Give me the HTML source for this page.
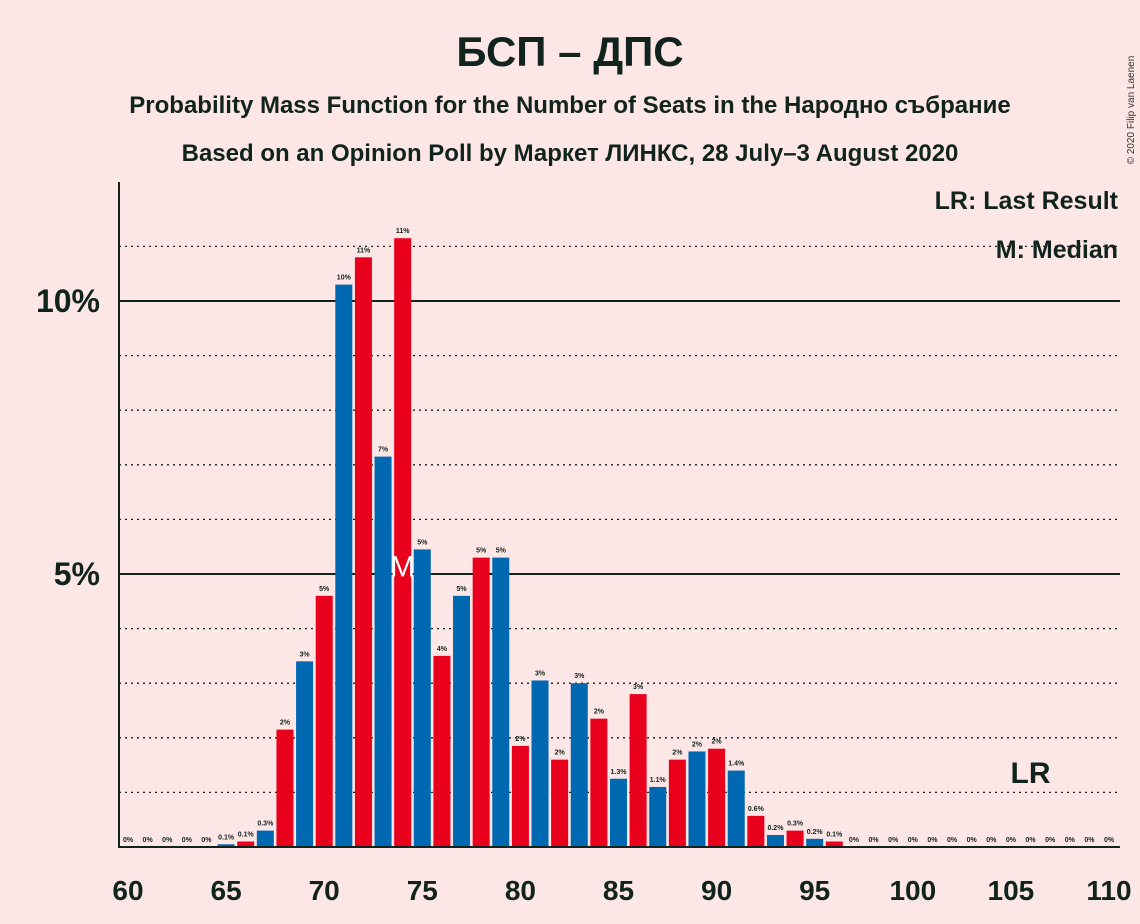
<!DOCTYPE html>
<html><head><meta charset="utf-8"><style>
body{margin:0;background:#fde6e6;}
svg{display:block;font-family:"Liberation Sans",sans-serif;}
</style></head><body>
<svg width="1140" height="924">
<rect width="1140" height="924" fill="#fde6e6"/>
<text x="570" y="66" text-anchor="middle" font-size="42" font-weight="bold" fill="#10231d">БСП – ДПС</text>
<text x="570" y="113" text-anchor="middle" font-size="24" font-weight="bold" fill="#10231d">Probability Mass Function for the Number of Seats in the Народно събрание</text>
<text x="570" y="161" text-anchor="middle" font-size="24" font-weight="bold" fill="#10231d">Based on an Opinion Poll by Маркет ЛИНКС, 28 July–3 August 2020</text>
<text x="1134" y="110" font-size="10" fill="#333" transform="rotate(-90 1134 110)" text-anchor="middle">© 2020 Filip van Laenen</text>
<g id="grid"></g>
<g id="bars"></g>
<g id="labels"></g>
<text x="1118" y="209" text-anchor="end" font-size="25" font-weight="bold" fill="#10231d">LR: Last Result</text>
<text x="1118" y="258" text-anchor="end" font-size="25" font-weight="bold" fill="#10231d">M: Median</text>
<g id="axes"></g>
</svg>
<script>
const seats=[];for(let s=60;s<=110;s++)seats.push(s);
const probs=[0,0,0,0,0,0.05,0.1,0.3,2.15,3.4,4.6,10.3,10.8,7.15,11.15,5.45,3.5,4.6,5.3,5.3,1.85,3.05,1.6,3.0,2.35,1.25,2.8,1.1,1.6,1.75,1.8,1.4,0.57,0.22,0.3,0.15,0.1,0,0,0,0,0,0,0,0,0,0,0,0,0,0];
const valueLabels=["0%","0%","0%","0%","0%","0.1%","0.1%","0.3%","2%","3%","5%","10%","11%","7%","11%","5%","4%","5%","5%","5%","2%","3%","2%","3%","2%","1.3%","3%","1.1%","2%","2%","2%","1.4%","0.6%","0.2%","0.3%","0.2%","0.1%","0%","0%","0%","0%","0%","0%","0%","0%","0%","0%","0%","0%","0%","0%"];
const xTicks=[60,65,70,75,80,85,90,95,100,105,110];
const yTicks=[5,10];
const medianSeat=74, lastResultSeat=106;
const NS="http://www.w3.org/2000/svg";
const x=s=>128+(s-60)*19.62;
const y=p=>847-p*54.6;
function mk(t,parent,attrs){const e=document.createElementNS(NS,t);for(const k in attrs)e.setAttribute(k,attrs[k]);document.getElementById(parent).appendChild(e);return e;}
for(let p=1;p<=11;p++){
 const solid=yTicks.includes(p);
 const l=mk('line','grid',{x1:119,x2:1120,y1:y(p),y2:y(p),stroke:'#10231d','stroke-width':solid?2:1.3,'stroke-dasharray':solid?'':'2,4'});
 
 
}
seats.forEach((s,i)=>{
 const p=probs[i];
 if(p>0){
  const r=mk('rect','bars',{x:x(s)-8.5,y:y(p),width:17,height:847-y(p),fill:s%2?'#0067b1':'#e8001c'});
  
  
 }
 const t=mk('text','labels',{x:x(s),y:y(p)-5,'text-anchor':'middle','font-size':7,'font-weight':'bold',fill:'#10231d'});
 t.textContent=valueLabels[i];
 
 
});
const m=mk('text','labels',{x:x(medianSeat),y:y(5.05)+5,'text-anchor':'middle','font-size':30,fill:'#fff'});
m.textContent='M';


const lr=mk('text','labels',{x:x(lastResultSeat),y:y(1.3)+7,'text-anchor':'middle','font-size':30,'font-weight':'bold',fill:'#10231d'});
lr.textContent='LR';


const ya=mk('line','axes',{x1:119,x2:119,y1:182,y2:848,stroke:'#10231d','stroke-width':2});


const xa=mk('line','axes',{x1:118,x2:1120,y1:847,y2:847,stroke:'#10231d','stroke-width':2});


xTicks.forEach(s=>{
 const t=mk('text','axes',{x:x(s),y:900,'text-anchor':'middle','font-size':28,'font-weight':'bold',fill:'#10231d'});
 t.textContent=s;
 
 
});
yTicks.forEach(p=>{
 const t=mk('text','axes',{x:100,y:y(p)+11,'text-anchor':'end','font-size':32,'font-weight':'bold',fill:'#10231d'});
 t.textContent=p+'%';
 
 
});
</script>
</body></html>
